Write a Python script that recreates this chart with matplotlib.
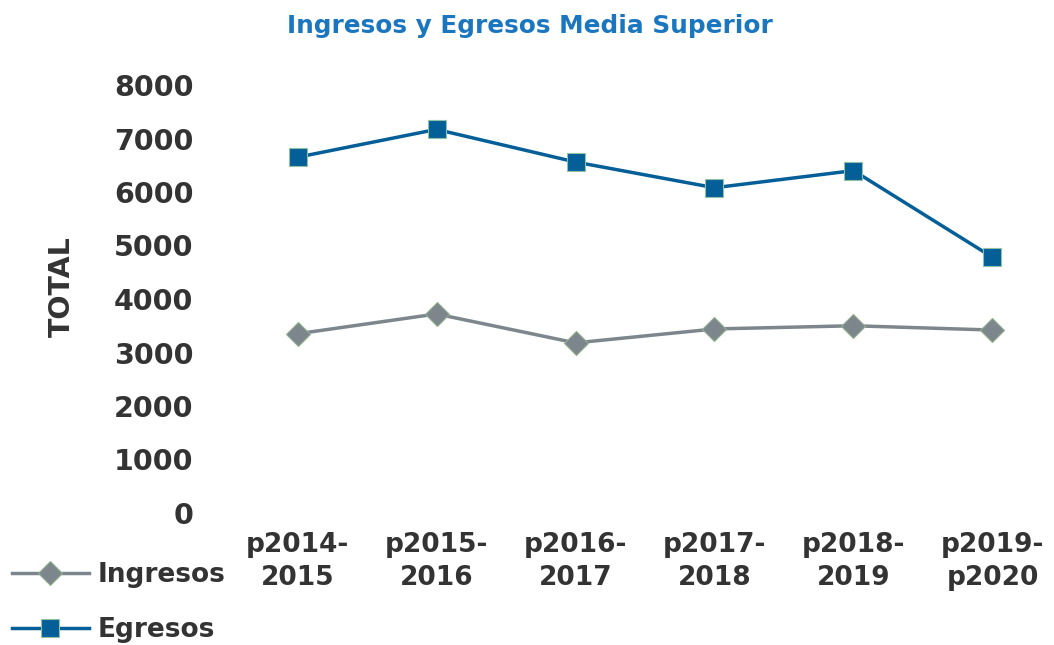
import matplotlib
matplotlib.use("Agg")
from matplotlib import pyplot as plt
from matplotlib.lines import Line2D

# data
periodos = ["p2014-\n2015", "p2015-\n2016", "p2016-\n2017", "p2017-\n2018", "p2018-\n2019", "p2019-\np2020"]
ingresos = [3350, 3720, 3180, 3440, 3500, 3420]
egresos = [6650, 7170, 6560, 6080, 6400, 4780]
yticks = [0, 1000, 2000, 3000, 4000, 5000, 6000, 7000, 8000]

gris = "#7d868c"
azul = "#045e97"
texto = "#333333"

plt.rcParams['font.family'] = ['DejaVu Sans']

fig = plt.figure(figsize=(10.54, 6.45), dpi=100)
ax = fig.add_axes([228 / 1054, (645 - 513) / 645, 826 / 1054, 428 / 645])

x = list(range(len(periodos)))
ax.plot(x, ingresos, color=gris, lw=2.5, marker="D", markersize=12,
        markerfacecolor=gris, markeredgecolor="#8fb08f", markeredgewidth=0.8)
ax.plot(x, egresos, color=azul, lw=2.5, marker="s", markersize=13,
        markerfacecolor=azul, markeredgecolor="#8fc0a8", markeredgewidth=0.8)

ax.set_xlim(-0.5, -0.5 + 826 / 139)
ax.set_ylim(0, 8000)
ax.set_yticks(yticks)
ax.set_yticklabels([str(v) for v in yticks], fontsize=20.5, fontweight="bold", color=texto)
ax.set_xticks(x)
ax.set_xticklabels(periodos, fontsize=19, fontweight="bold", color=texto, linespacing=1.35)
ax.tick_params(axis="y", length=0, pad=25)
ax.tick_params(axis="x", length=0, pad=14)
for s in ax.spines.values():
    s.set_visible(False)

fig.text(62 / 1054, 1 - 287 / 645, "TOTAL", rotation=90, ha="center", va="center",
         fontsize=20.5, fontweight="bold", color=texto)
fig.text(530 / 1054, 1 - 26 / 645, "Ingresos y Egresos Media Superior", ha="center", va="center",
         fontsize=17.8, fontweight="bold", color="#1b76c0")

# legend
handles = [
    Line2D([], [], color=gris, lw=2.5, marker="D", markersize=12, markerfacecolor=gris,
           markeredgecolor="#8fb08f", markeredgewidth=0.8),
    Line2D([], [], color=azul, lw=2.5, marker="s", markersize=13, markerfacecolor=azul,
           markeredgecolor="#8fc0a8", markeredgewidth=0.8),
]
leg = fig.legend(handles, ["Ingresos", "Egresos"], loc="center left",
                 bbox_to_anchor=(12 / 1054, 1 - 602.5 / 645), frameon=False,
                 borderpad=0, borderaxespad=0, handlelength=2.9,
                 handletextpad=0.35, labelspacing=1.1,
                 prop={"size": 19, "weight": "bold"})
for t in leg.get_texts():
    t.set_color(texto)

fig.savefig("out.png", dpi=100)
